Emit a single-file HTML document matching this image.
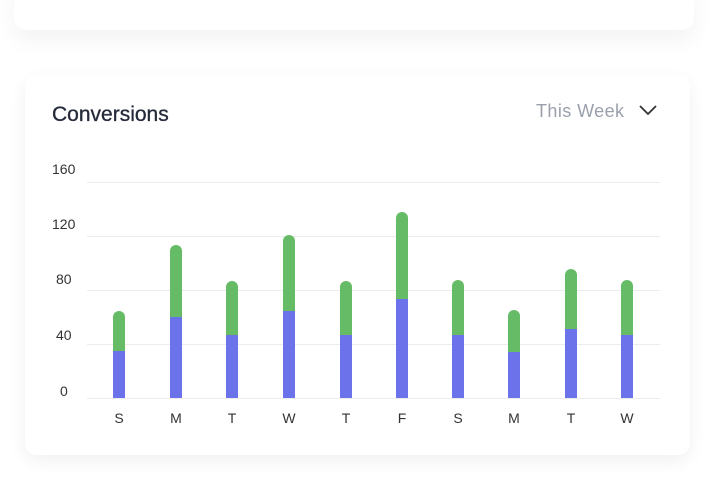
<!DOCTYPE html>
<html><head><style>
body{margin:0;width:720px;height:480px;background:#fff;overflow:hidden;font-family:"Liberation Sans",sans-serif;position:relative}
.c1{position:absolute;left:14px;top:-20px;width:680px;height:50px;background:#fff;border-radius:12px;box-shadow:0 10px 22px rgba(0,0,0,0.05)}
.c2{position:absolute;left:25px;top:75px;width:665px;height:380px;background:#fff;border-radius:12px;box-shadow:0 6px 18px rgba(0,0,0,0.06)}
</style></head><body>
<div class="c1"></div>
<div class="c2"></div>
<svg width="720" height="480" style="position:absolute;left:0;top:0">
<text x="52" y="121" font-size="21" fill="#252a3a" stroke="#252a3a" stroke-width="0.3" font-family="Liberation Sans,sans-serif">Conversions</text>
<text x="536" y="117" font-size="18" fill="#9aa0ab" textLength="88" font-family="Liberation Sans,sans-serif">This Week</text>
<polyline points="640,106 648,114 656,106" fill="none" stroke="#333" stroke-width="1.8"/>
<g stroke="#ececef" stroke-width="1">
<line x1="87" x2="660" y1="182.5" y2="182.5"/><line x1="87" x2="660" y1="236.5" y2="236.5"/>
<line x1="87" x2="660" y1="290.5" y2="290.5"/><line x1="87" x2="660" y1="344.5" y2="344.5"/>
<line x1="87" x2="660" y1="398.5" y2="398.5"/></g>
<g font-size="14" fill="#333" font-family="Liberation Sans,sans-serif">
<text x="52" y="174">160</text><text x="52" y="229">120</text><text x="56" y="284">80</text>
<text x="56" y="340">40</text><text x="60" y="396">0</text></g>
<g id="bars"></g>
<g font-size="14" fill="#333" text-anchor="middle" font-family="Liberation Sans,sans-serif" id="lbl"></g>
</svg>
<script>
var d=[[119,311,351,'S'],[176,245,317,'M'],[232,281,335,'T'],[289,235,311,'W'],[346,281,335,'T'],[402,212,299,'F'],[458,280,335,'S'],[514,310,352,'M'],[571,269,329,'T'],[627,280,335,'W']];
var b='',l='';
d.forEach(function(a){var x=a[0]-6;
b+='<path d="M'+x+' '+a[2]+'V'+(a[1]+6)+'a6 6 0 0 1 12 0V'+a[2]+'Z" fill="#66bb66"/>';
b+='<rect x="'+x+'" y="'+a[2]+'" width="12" height="'+(398-a[2])+'" fill="#6c72ea"/>';
l+='<text x="'+a[0]+'" y="423">'+a[3]+'</text>';});
document.getElementById('bars').innerHTML=b;document.getElementById('lbl').innerHTML=l;
</script>
</body></html>
